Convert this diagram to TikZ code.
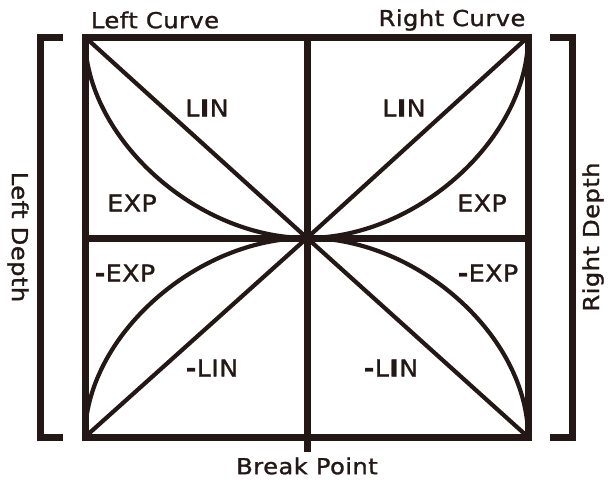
\documentclass[tikz,border=0pt]{standalone}
\usepackage{fontspec}
\setmainfont{DejaVu Sans}[FakeStretch=1.1, LetterSpace=2, FakeBold=1.2]
\definecolor{ink}{RGB}{35,24,21}
\begin{document}
\begin{tikzpicture}[x=1pt,y=-1pt,
  frame/.style={draw=ink,line width=7pt,line join=miter,line cap=butt},
  curve/.style={draw=ink,line width=4.2pt,line join=round},
  lbl/.style={text=ink,inner sep=0pt,font=\fontsize{23}{26}\selectfont},
  outer/.style={text=ink,inner sep=0pt,font=\fontsize{22}{26}\selectfont}]
\fill[white] (0,0) rectangle (608,482);
\useasboundingbox (0,0) rectangle (608,482);
\coordinate (TL) at (85,37);
\coordinate (TR) at (528,37);
\coordinate (BL) at (85,437);
\coordinate (BR) at (528,437);
\coordinate (C) at (307,238);
\coordinate (T) at (307,37);
\coordinate (B) at (307,452);
\coordinate (L) at (85,238);
\coordinate (R) at (528,238);
\coordinate (lb1) at (63,37);
\coordinate (lb2) at (40,37);
\coordinate (lb3) at (40,437);
\coordinate (lb4) at (63,437);
\coordinate (rb1) at (550,37);
\coordinate (rb2) at (572,37);
\coordinate (rb3) at (572,437);
\coordinate (rb4) at (550,437);
% curves
\draw[curve] (TL) -- (C) -- (BR);
\draw[curve] (BL) -- (C) -- (TR);
\draw[curve] (TL) .. controls (85,137) and (196,238) .. (C);
\draw[curve] (BL) .. controls (85,337) and (196,238) .. (C);
\draw[curve] (TR) .. controls (528,137) and (418,238) .. (C);
\draw[curve] (BR) .. controls (528,337) and (418,238) .. (C);
% frame
\draw[frame] (TL) rectangle (BR);
\draw[frame] (T) -- (B);
\draw[frame] (L) -- (R);
\draw[frame] (lb1) -- (lb2) -- (lb3) -- (lb4);
\draw[frame] (rb1) -- (rb2) -- (rb3) -- (rb4);
% labels
\node[lbl] (lin1) at (207,108) {L\textbf{I}N};
\node[lbl] (exp1) at (132,203) {EXP};
\node[lbl] (lin2) at (404,108) {L\textbf{I}N};
\node[lbl] (exp2) at (482,203) {EXP};
\node[lbl] (nexp1) at (125,273) {\textbf{-}EXP};
\node[lbl] (nlin1) at (212,368) {\textbf{-}LIN};
\node[lbl] (nexp2) at (488,273) {\textbf{-}EXP};
\node[lbl] (nlin2) at (391,368) {\textbf{-}L\textbf{I}N};
\node[outer] (lc) at (155,20) {Left Curve};
\node[outer] (rc) at (452,20) {Right Curve};
\node[outer] (bp) at (307,466) {Break Point};
\node[outer,rotate=-90] (ld) at (18,237) {Left Depth};
\node[outer,rotate=90] (rd) at (593,237) {Right Depth};
\end{tikzpicture}
\end{document}
